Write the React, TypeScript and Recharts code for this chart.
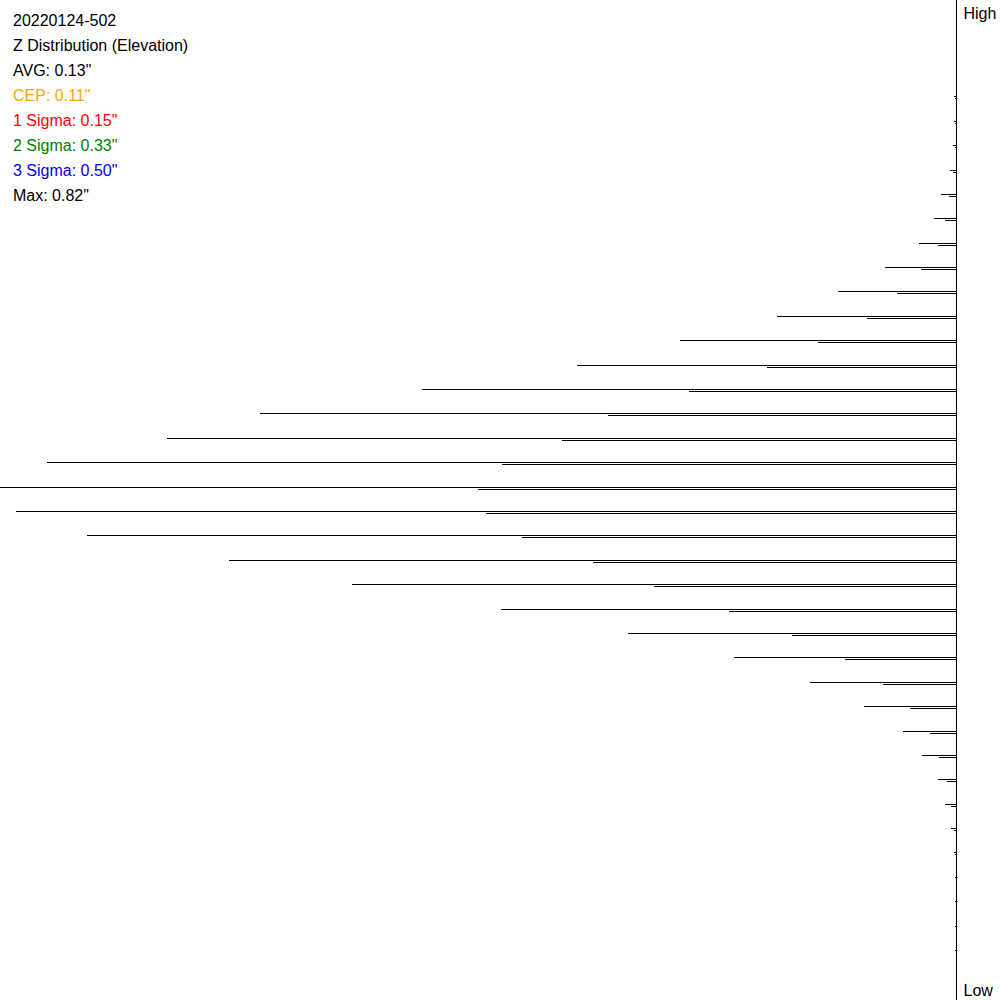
import React from 'react';
import { ComposedChart, Bar, XAxis, YAxis } from 'recharts';

// Bin boundary index (0 = top edge, 41 = bottom edge) and relative count at that boundary
const binPositions = [4, 5, 6, 7, 8, 9, 10, 11, 12, 13, 14, 15, 16, 17, 18, 19, 20, 21, 22, 23, 24, 25, 26, 27, 28, 29, 30, 31, 32, 33, 34, 35, 36, 37, 38, 39];
const binValues = [3, 3, 4, 7, 16, 23, 38, 72, 119, 180, 277, 380, 535, 697, 790, 910, 957, 941, 870, 728, 605, 456, 329, 223, 147, 93, 54, 35, 19, 12, 6, 3, 2, 2, 2, 2];

const yTickValues = [0, 41];
const yTickLabels = ['High', 'Low'];

const statLabels = ['20220124-502', 'Z Distribution (Elevation)', 'AVG: 0.13"', 'CEP: 0.11"', '1 Sigma: 0.15"', '2 Sigma: 0.33"', '3 Sigma: 0.50"', 'Max: 0.82"'];
const statColors = ['#000000', '#000000', '#000000', '#FFA500', '#FF0000', '#008000', '#0000FF', '#000000'];

const data = binPositions.map((k, i) => ({ pos: k, value: binValues[i] }));

const FONT = '"Liberation Sans", Arial, sans-serif';

const HistShape = (props: any) => {
  const { x, y, width, height } = props;
  if (x == null || y == null) return null;
  const left = Math.min(x, x + width);
  const right = Math.max(x, x + width);
  const full = right - left;
  const center = Math.round(y + height / 2);
  const yUp = center - 0.5;
  const yLow = center + 1.5;
  return (
    <g shapeRendering="crispEdges">
      <line x1={left} x2={right} y1={yUp} y2={yUp} stroke="#000" strokeWidth={1} />
      <line x1={right - full / 2} x2={right} y1={yLow} y2={yLow} stroke="#000" strokeWidth={1} />
      <line x1={right - 1.5} x2={right + 1.5} y1={center + 0.5} y2={center + 0.5} stroke="#fff" strokeWidth={1} />
    </g>
  );
};

const EdgeTick = (props: any) => {
  const { x, y, payload } = props;
  const idx = yTickValues.indexOf(payload.value);
  const dy = idx === 0 ? 19 : -4;
  return (
    <text x={x} y={y + dy} textAnchor="start" fontSize={16} fill="#000" fontFamily={FONT}>
      {yTickLabels[idx]}
    </text>
  );
};

export default function App() {
  return (
    <div style={{ position: 'absolute', left: 0, top: 0, width: 1000, height: 1000, background: '#fff', fontFamily: FONT }}>
      <ComposedChart
        width={1000}
        height={1000}
        data={data}
        layout="vertical"
        margin={{ top: 0, right: 0, bottom: 0, left: 0 }}
      >
        <XAxis type="number" dataKey="value" domain={[0, 957]} reversed hide allowDataOverflow />
        <YAxis
          type="number"
          dataKey="pos"
          domain={[0, 41]}
          orientation="right"
          width={43.5}
          ticks={yTickValues}
          interval={0}
          tickLine={false}
          tickMargin={1}
          axisLine={{ stroke: '#000', strokeWidth: 1, shapeRendering: 'crispEdges' }}
          tick={<EdgeTick />}
        />
        <Bar dataKey="value" barSize={4} isAnimationActive={false} shape={<HistShape />} />
      </ComposedChart>
      <div style={{ position: 'absolute', left: 13, top: 8, fontSize: 16, lineHeight: '25px', fontFamily: FONT }}>
        {statLabels.map((t, i) => (
          <div key={i} style={{ color: statColors[i], whiteSpace: 'nowrap' }}>{t}</div>
        ))}
      </div>
    </div>
  );
}
